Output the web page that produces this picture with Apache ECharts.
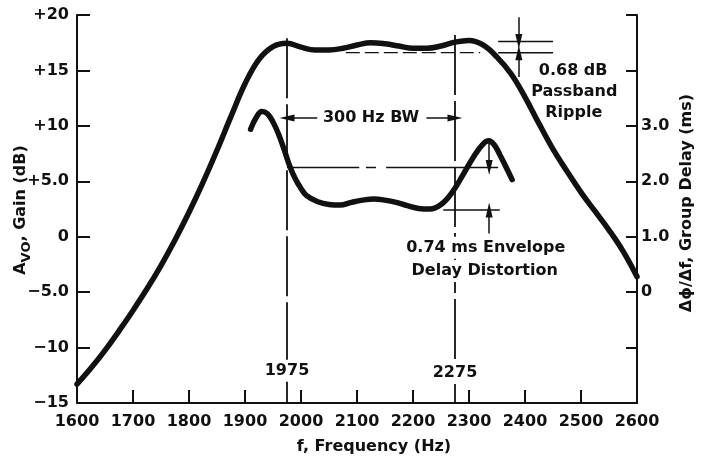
<!DOCTYPE html>
<html>
<head>
<meta charset="utf-8">
<script src="https://cdn.jsdelivr.net/npm/echarts@6/dist/echarts.min.js"></script>
<style>
html, body { margin: 0; padding: 0; background: #fff; }
#root { width: 707px; height: 458px; }
</style>
</head>
<body>
<div id="root"></div>
<script>
// tick labels
var freqTicks = [1600, 1700, 1800, 1900, 2000, 2100, 2200, 2300, 2400, 2500, 2600];
var gainTicks = [-15, -10, -5, 0, 5, 10, 15, 20];
var gainTickText = ['\u221215', '\u221210', '\u22125.0', '0', '+5.0', '+10', '+15', '+20'];
var delayTicks = [0, 1, 2, 3];
var delayTickText = ['0', '1.0', '2.0', '3.0'];

// gain curve (Hz, dB), read every 25 Hz
var gainFreq = [1600, 1625, 1650, 1675, 1700, 1725, 1750, 1775, 1800, 1825, 1850, 1875, 1900, 1925, 1950, 1975, 2000, 2025, 2050, 2075, 2100, 2125, 2150, 2175, 2200, 2225, 2250, 2275, 2300, 2325, 2350, 2375, 2400, 2425, 2450, 2475, 2500, 2525, 2550, 2575, 2600];
var gainDb = [-13.3, -11.85, -10.25, -8.5, -6.65, -4.7, -2.6, -0.3, 2.2, 4.9, 7.8, 10.85, 13.8, 16.0, 17.15, 17.45, 17.1, 16.85, 16.85, 17.0, 17.3, 17.5, 17.4, 17.2, 17.0, 17.0, 17.2, 17.55, 17.7, 17.3, 16.2, 14.7, 12.6, 10.2, 7.9, 5.9, 4.0, 2.3, 0.6, -1.3, -3.6];

// group delay curve (Hz, ms)
var delayFreq = [1910, 1920, 1930, 1940, 1950, 1960, 1970, 1980, 1990, 2000, 2010, 2030, 2050, 2070, 2090, 2110, 2130, 2150, 2170, 2190, 2210, 2230, 2250, 2270, 2290, 2310, 2325, 2335, 2345, 2355, 2365, 2377];
var delayMs = [2.94, 3.15, 3.26, 3.22, 3.07, 2.85, 2.57, 2.27, 2.04, 1.87, 1.74, 1.63, 1.58, 1.57, 1.62, 1.66, 1.68, 1.66, 1.62, 1.56, 1.51, 1.5, 1.58, 1.8, 2.13, 2.47, 2.67, 2.73, 2.66, 2.48, 2.28, 2.03];

// annotations
var bwEdges = [1975, 2275];
var bwTop = [17.9, 18.2];          // dB where the edge lines start
var rippleDb = [17.6, 16.6];       // passband ripple marks
var delayRef = [2.25, 1.48];       // envelope delay distortion marks (ms)

var INK = '#111';
var FONT = 'DejaVu Sans';

function zip(xs, ys) {
  return xs.map(function (x, i) { return [x, ys[i]]; });
}
function seg(pts, axis, dash, width) {
  return {
    type: 'line', yAxisIndex: axis, data: pts, symbol: 'none', silent: true, z: 2,
    lineStyle: { color: INK, width: width || 1.5, type: dash || 'solid' }
  };
}
function arrow(from, to) {
  return [
    { coord: from, symbol: 'none' },
    { coord: to, symbol: 'triangle', symbolSize: [7, 15] }
  ];
}
var labelFont = { color: INK, fontFamily: FONT, fontSize: 16, fontWeight: 'bold' };

var chart = echarts.init(document.getElementById('root'));

var option = {
  animation: false,
  backgroundColor: '#fff',
  grid: { left: 77, right: 70, top: 15, bottom: 55 },
  xAxis: {
    type: 'value', min: 1600, max: 2600, interval: 100,
    axisLine: { onZero: false, lineStyle: { color: INK, width: 2 } },
    axisTick: { inside: true, length: 13, lineStyle: { color: INK, width: 2 } },
    axisLabel: Object.assign({
      margin: 11,
      formatter: function (v) { var i = freqTicks.indexOf(v); return i < 0 ? '' : String(freqTicks[i]); }
    }, labelFont),
    splitLine: { show: false }
  },
  yAxis: [
    {
      type: 'value', min: -15, max: 20, interval: 5,
      axisLine: { show: true, onZero: false, lineStyle: { color: INK, width: 2 } },
      axisTick: { show: true, inside: true, length: 13, lineStyle: { color: INK, width: 2 } },
      axisLabel: Object.assign({
        margin: 8,
        formatter: function (v) { var i = gainTicks.indexOf(v); return i < 0 ? '' : gainTickText[i]; }
      }, labelFont),
      splitLine: { show: false }
    },
    {
      type: 'value', min: -2, max: 5, interval: 1, position: 'right',
      axisLine: { show: true, onZero: false, lineStyle: { color: INK, width: 2 } },
      axisTick: { show: true, inside: true, length: 11, lineStyle: { color: INK, width: 2 } },
      axisLabel: Object.assign({
        margin: 4,
        formatter: function (v) { var i = delayTicks.indexOf(v); return i < 0 ? '' : delayTickText[i]; }
      }, labelFont),
      splitLine: { show: false }
    }
  ],
  series: [
    // band edge lines
    seg([[bwEdges[0], bwTop[0]], [bwEdges[0], -15]], 0, [60, 6], 1.8),
    seg([[bwEdges[1], bwTop[1]], [bwEdges[1], -15]], 0, [60, 6], 1.8),
    // ripple marks
    seg([[2080, rippleDb[1]], [2320, rippleDb[1]]], 0, [14, 5], 1.3),
    seg([[2352, rippleDb[1]], [2450, rippleDb[1]]], 0),
    seg([[2352, rippleDb[0]], [2450, rippleDb[0]]], 0),
    // delay distortion marks
    seg([[1975, delayRef[0]], [2104, delayRef[0]]], 1),
    seg([[2116, delayRef[0]], [2134, delayRef[0]]], 1),
    seg([[2152, delayRef[0]], [2352, delayRef[0]]], 1),
    seg([[2254, delayRef[1]], [2355, delayRef[1]]], 1),
    {
      name: 'Gain', type: 'line', yAxisIndex: 0, data: zip(gainFreq, gainDb),
      smooth: 0.4, symbol: 'none', z: 4,
      lineStyle: { color: INK, width: 5.5, cap: 'round' },
      markLine: {
        silent: true, animation: false, label: { show: false },
        lineStyle: { color: INK, width: 1.5, type: 'solid' },
        data: [
          arrow([2389, 19.8], [2389, rippleDb[0]]),
          arrow([2389, 14.4], [2389, rippleDb[1]]),
          arrow([2029, 10.7], [bwEdges[0], 10.7]),
          arrow([2224, 10.7], [bwEdges[1], 10.7])
        ]
      }
    },
    {
      name: 'Group Delay', type: 'line', yAxisIndex: 1, data: zip(delayFreq, delayMs),
      smooth: 0.4, symbol: 'none', z: 4,
      lineStyle: { color: INK, width: 5.5, cap: 'round' },
      markLine: {
        silent: true, animation: false, label: { show: false },
        lineStyle: { color: INK, width: 1.5, type: 'solid' },
        data: [
          arrow([2336, 2.72], [2336, delayRef[0]]),
          arrow([2336, 1.06], [2336, delayRef[1]])
        ]
      }
    }
  ]
};
chart.setOption(option);

// notes placed in (Hz, dB) through the axes
var notes = [
  { at: [2125, 10.7], text: '300 Hz BW' },
  { at: [2486, 14.95], text: '0.68 dB' },
  { at: [2488, 13.1], text: 'Passband' },
  { at: [2487, 11.2], text: 'Ripple' },
  { at: [2330, -1.0], text: '0.74 ms Envelope', box: true },
  { at: [2328, -3.1], text: 'Delay Distortion', box: true },
  { at: [1975, -12.1], text: '1975', box: true },
  { at: [2275, -12.3], text: '2275', box: true }
];
var FONT_CSS = 'bold 16px "' + FONT + '"';

var graphics = notes.map(function (n) {
  var p = chart.convertToPixel({ xAxisIndex: 0, yAxisIndex: 0 }, n.at);
  return {
    type: 'text', x: p[0], y: p[1], z: 10,
    style: {
      text: n.text, fill: INK, font: FONT_CSS,
      align: 'center', verticalAlign: 'middle',
      backgroundColor: n.box ? '#fff' : null,
      padding: n.box ? [3, 2] : 0
    }
  };
});

graphics.push({
  type: 'text', x: 21, y: 210, rotation: Math.PI / 2, z: 10,
  style: {
    text: '{a|A}{s|VO}{a|, Gain (dB)}',
    align: 'center', verticalAlign: 'middle',
    rich: {
      a: { fill: INK, fontFamily: FONT, fontWeight: 'bold', fontSize: 16, lineHeight: 24, verticalAlign: 'middle' },
      s: { fill: INK, fontFamily: FONT, fontWeight: 'bold', fontSize: 13, lineHeight: 24, verticalAlign: 'bottom' }
    }
  }
});
graphics.push({
  type: 'text', x: 687, y: 203, rotation: Math.PI / 2, z: 10,
  style: {
    text: '\u0394\u03D5/\u0394f, Group Delay (ms)', fill: INK,
    font: FONT_CSS, align: 'center', verticalAlign: 'middle'
  }
});
graphics.push({
  type: 'text', x: 374, y: 447, z: 10,
  style: {
    text: 'f, Frequency (Hz)', fill: INK,
    font: FONT_CSS, align: 'center', verticalAlign: 'middle'
  }
});

chart.setOption({ graphic: graphics });
</script>
</body>
</html>
